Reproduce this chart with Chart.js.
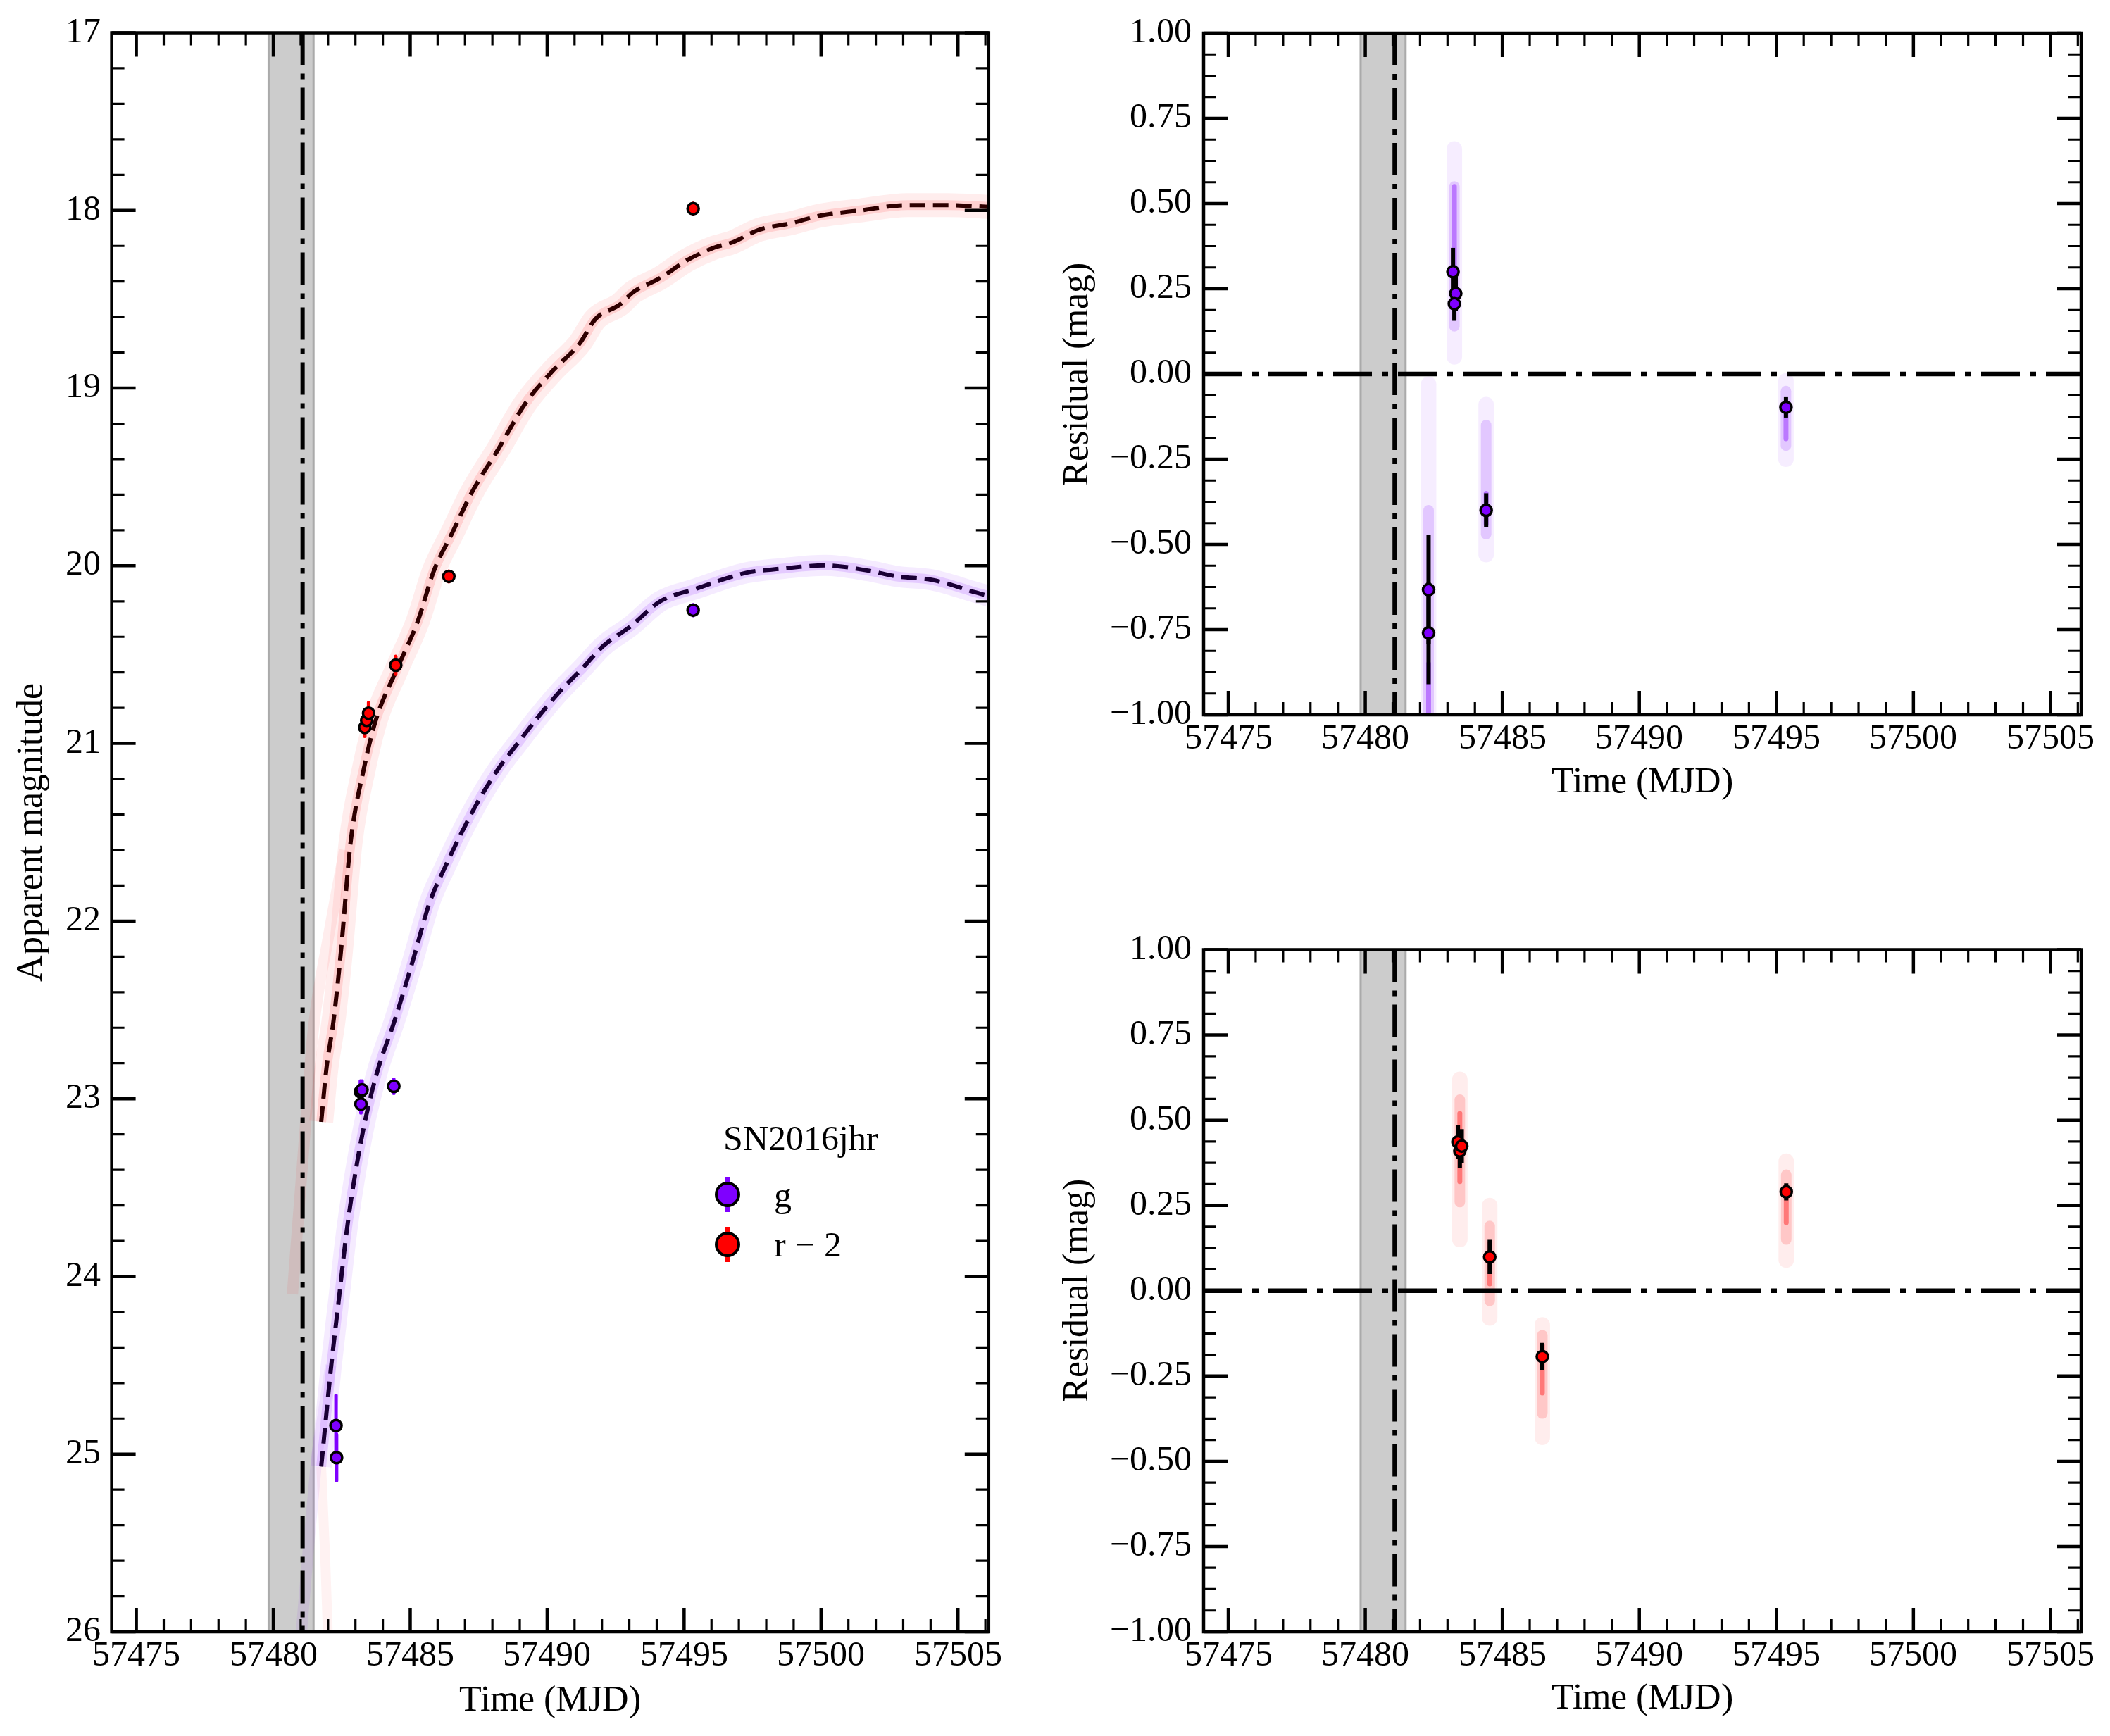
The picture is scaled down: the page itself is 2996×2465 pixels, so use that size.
<!DOCTYPE html>
<html><head><meta charset="utf-8">
<script src="https://cdn.jsdelivr.net/npm/chart.js@4.4.1/dist/chart.umd.min.js"></script>
<style>
@font-face { font-family: 'SerifX'; src: local('Liberation Serif'), local('LiberationSerif'), local('LiberationSerif-Regular'), local('Liberation Serif Regular'), local('Times New Roman'), local('DejaVu Serif'), local('DejaVuSerif'); }
html,body{margin:0;padding:0;background:#fff;}
#wrap{position:relative;width:2996px;height:2465px;overflow:hidden;background:#fff;}
canvas{position:absolute;}
#probe{position:absolute;left:-9999px;top:0;font-family:SerifX;font-size:50px;}
</style></head><body>
<div id="probe">SN2016jhr 0123456789</div>
<div id="wrap">
<canvas id="c1" width="1460" height="2465" style="left:0px;top:0px;width:1460px;height:2465px"></canvas>
<canvas id="c2" width="1516" height="1232" style="left:1480px;top:0px;width:1516px;height:1232px"></canvas>
<canvas id="c3" width="1516" height="1233" style="left:1480px;top:1232px;width:1516px;height:1233px"></canvas>
</div>
<script>
// ---------------- data ----------------
const xTicks = [57475, 57480, 57485, 57490, 57495, 57500, 57505];
const magTicks = [17, 18, 19, 20, 21, 22, 23, 24, 25, 26];
const resTicks = [-1, -0.75, -0.5, -0.25, 0, 0.25, 0.5, 0.75, 1];
const xLimits = [57474.1, 57506.12];
const magLimits = [17, 26];
const resLimits = [-1, 1];

const explosionTime = 57481.07;
const explosionWindow = [57479.83, 57481.47];

const legendTitle = 'SN2016jhr';
const legendLabels = ['g', 'r \u2212 2'];

// g band photometry
const gTime = [57482.29, 57482.31, 57483.18, 57483.24, 57483.20, 57484.40, 57495.33];
const gMag  = [24.84, 25.02, 22.96, 22.95, 23.03, 22.93, 20.25];
const gErr  = [0.17, 0.13, 0.06, 0.05, 0.05, 0.04, 0.03];

// r band photometry (r - 2)
const rTime = [57483.34, 57483.41, 57483.48, 57484.47, 57486.41, 57495.33];
const rMag  = [20.91, 20.87, 20.83, 20.56, 20.06, 17.99];
const rErr  = [0.05, 0.05, 0.06, 0.05, 0.03, 0.03];

// best-fit model curves
const rModelTime = [57481.75, 57481.94, 57482.20, 57482.47, 57482.82, 57483.31, 57483.75, 57484.49, 57485.28, 57485.86, 57486.55, 57487.24, 57488.23, 57489.21, 57490.19, 57491.18, 57491.77, 57492.65, 57493.14, 57494.13, 57495.11, 57496.09, 57496.76, 57497.72, 57498.96, 57499.94, 57501.43, 57503.16, 57504.64, 57506.12];
const rModelMag  = [23.13, 22.83, 22.56, 22.17, 21.56, 21.14, 20.865, 20.59, 20.31, 20.03, 19.81, 19.59, 19.34, 19.085, 18.905, 18.75, 18.61, 18.53, 18.46, 18.38, 18.28, 18.21, 18.18, 18.11, 18.07, 18.03, 18.00, 17.97, 17.97, 17.98];
const gModelTime = [57481.75, 57482.11, 57482.37, 57482.71, 57483.06, 57483.40, 57483.83, 57484.43, 57485.10, 57485.72, 57486.26, 57486.85, 57487.54, 57488.23, 57488.92, 57489.60, 57490.39, 57491.27, 57492.06, 57493.05, 57494.13, 57495.42, 57497.26, 57498.57, 57500.14, 57501.71, 57502.76, 57504.07, 57505.65, 57506.12];
const gModelMag  = [25.07, 24.51, 24.16, 23.71, 23.36, 23.09, 22.83, 22.56, 22.22, 21.89, 21.70, 21.51, 21.31, 21.14, 21.00, 20.865, 20.72, 20.58, 20.45, 20.34, 20.20, 20.13, 20.04, 20.016, 19.998, 20.027, 20.06, 20.08, 20.15, 20.17];

// faint early-time model samples
const rSampleTime = [57482.6, 57482.0, 57481.47, 57481.1, 57480.7];
const rSampleMag  = [21.6, 22.1, 22.6, 23.3, 24.1];
const gSampleTimeA = [57482.1, 57481.6, 57481.3, 57481.0];
const gSampleMagA  = [24.5, 25.0, 25.5, 26.05];
const gSampleTimeB = [57481.75, 57481.9, 57482.0];
const gSampleMagB  = [25.07, 25.6, 26.05];

// residuals g
const gResTime = [57482.31, 57482.31, 57483.20, 57483.30, 57483.25, 57484.41, 57495.35];
const gRes     = [-0.633, -0.76, 0.30, 0.236, 0.206, -0.40, -0.098];
const gResErr  = [0.16, 0.15, 0.07, 0.05, 0.05, 0.05, 0.03];
// residual sample clouds g (faint halo, denser part, core)
const gCloudTime    = [57482.31, 57483.25, 57484.41, 57495.35];
const gCloudOuterLo = [-1.05, 0.05, -0.53, -0.25];
const gCloudOuterHi = [-0.03, 0.66, -0.09, -0.02];
const gCloudInnerLo = [-1.05, 0.14, -0.47, -0.21];
const gCloudInnerHi = [-0.40, 0.55, -0.15, -0.05];
const gCloudCoreLo  = [-1.05, 0.22, -0.44, -0.19];
const gCloudCoreHi  = [-0.85, 0.55, -0.35, -0.12];

// residuals r
const rResTime = [57483.38, 57483.45, 57483.52, 57484.54, 57486.46, 57495.36];
const rRes     = [0.436, 0.41, 0.424, 0.099, -0.193, 0.29];
const rResErr  = [0.05, 0.05, 0.05, 0.05, 0.04, 0.025];
const rCloudTime    = [57483.45, 57484.54, 57486.46, 57495.36];
const rCloudOuterLo = [0.15, -0.08, -0.43, 0.09];
const rCloudOuterHi = [0.62, 0.25, -0.10, 0.38];
const rCloudInnerLo = [0.26, -0.03, -0.36, 0.15];
const rCloudInnerHi = [0.56, 0.19, -0.13, 0.34];
const rCloudCoreLo  = [0.32, 0.02, -0.30, 0.20];
const rCloudCoreHi  = [0.52, 0.14, -0.16, 0.30];

// ---------------- style ----------------
const FONT = "SerifX, 'Liberation Serif', 'DejaVu Serif', serif";
const PURPLE = '#7f00ff';
const RED = '#ff0000';

function xy(xs, ys) { return xs.map((x, i) => ({x: x, y: ys[i]})); }
function lineDS(data, style) {
  return Object.assign({data: data, showLine: true, pointRadius: 0, pointHoverRadius: 0,
    fill: false, clip: 0, tension: 0, borderJoinStyle: 'round'}, style);
}
function pointsDS(xs, ys, color) {
  return {data: xy(xs, ys), showLine: false, pointRadius: 8, pointHoverRadius: 8,
    pointBorderWidth: 3.5, pointBackgroundColor: color, pointBorderColor: '#000', order: 0};
}
function errDS(xs, ys, es, color, width) {
  return xs.map((x, i) => lineDS([{x: x, y: ys[i] - es[i]}, {x: x, y: ys[i] + es[i]}],
    {borderColor: color, borderWidth: width, order: 1}));
}
function cloudDS(xs, lo, hi, color, width, order) {
  return xs.map((x, i) => lineDS([{x: x, y: lo[i]}, {x: x, y: hi[i]}],
    {borderColor: color, borderWidth: width, borderCapStyle: 'round', order: order}));
}

const spanPlugin = {
  id: 'expSpan',
  beforeDatasetsDraw(chart) {
    const {ctx, chartArea: a, scales: {x}} = chart;
    const x0 = x.getPixelForValue(explosionWindow[0]);
    const x1 = x.getPixelForValue(explosionWindow[1]);
    ctx.save();
    ctx.fillStyle = '#cccccc';
    ctx.fillRect(x0, a.top, x1 - x0, a.bottom - a.top);
    ctx.strokeStyle = '#aaaaaa';
    ctx.lineWidth = 3;
    ctx.beginPath();
    ctx.moveTo(x0, a.top); ctx.lineTo(x0, a.bottom);
    ctx.moveTo(x1, a.top); ctx.lineTo(x1, a.bottom);
    ctx.stroke();
    ctx.restore();
  }
};

const frameTicksPlugin = {
  id: 'frameTicks',
  afterDraw(chart, args, opts) {
    const {ctx, chartArea: a, scales: {x, y}} = chart;
    ctx.save();
    ctx.strokeStyle = '#000';
    ctx.lineCap = 'butt';
    const MAJ = 34, MIN = 18;
    function vt(v, len, lw) {
      const p = x.getPixelForValue(v);
      if (p < a.left - 1 || p > a.right + 1) return;
      ctx.lineWidth = lw; ctx.beginPath();
      ctx.moveTo(p, a.bottom); ctx.lineTo(p, a.bottom - len);
      ctx.moveTo(p, a.top); ctx.lineTo(p, a.top + len);
      ctx.stroke();
    }
    function ht(v, len, lw) {
      const p = y.getPixelForValue(v);
      if (p < a.top - 1 || p > a.bottom + 1) return;
      ctx.lineWidth = lw; ctx.beginPath();
      ctx.moveTo(a.left, p); ctx.lineTo(a.left + len, p);
      ctx.moveTo(a.right, p); ctx.lineTo(a.right - len, p);
      ctx.stroke();
    }
    const xMaj = opts.xMajor, yMaj = opts.yMajor;
    for (let n = Math.ceil(x.min / opts.xMinor); n * opts.xMinor <= x.max; n++) {
      const v = n * opts.xMinor;
      if (!xMaj.some(m => Math.abs(m - v) < 1e-6)) vt(v, MIN, 3.2);
    }
    const ylo = Math.min(y.min, y.max), yhi = Math.max(y.min, y.max);
    for (let n = Math.ceil(ylo / opts.yMinor - 1e-9); n * opts.yMinor <= yhi + 1e-9; n++) {
      const v = Math.round(n * opts.yMinor * 1e6) / 1e6;
      if (!yMaj.some(m => Math.abs(m - v) < 1e-6)) ht(v, MIN, 3.2);
    }
    xMaj.forEach(v => vt(v, MAJ, 4.5));
    yMaj.forEach(v => ht(v, MAJ, 4.5));
    ctx.lineWidth = 4.5;
    ctx.strokeRect(a.left, a.top, a.right - a.left, a.bottom - a.top);
    ctx.restore();
  }
};

const legendPlugin = {
  id: 'lcLegend',
  afterDraw(chart) {
    const ctx = chart.ctx;
    ctx.save();
    ctx.font = '50px ' + FONT;
    ctx.fillStyle = '#000';
    ctx.textAlign = 'left';
    ctx.textBaseline = 'alphabetic';
    ctx.fillText(legendTitle, 1027, 1633);
    const colors = [PURPLE, RED];
    legendLabels.forEach((lab, i) => {
      const cx = 1033, cy = 1696 + i * 71;
      ctx.strokeStyle = colors[i]; ctx.lineWidth = 6;
      ctx.beginPath(); ctx.moveTo(cx, cy - 25); ctx.lineTo(cx, cy + 25); ctx.stroke();
      ctx.beginPath(); ctx.arc(cx, cy, 16, 0, 2 * Math.PI);
      ctx.fillStyle = colors[i]; ctx.fill();
      ctx.lineWidth = 4; ctx.strokeStyle = '#000'; ctx.stroke();
      ctx.fillStyle = '#000';
      ctx.fillText(lab, 1099, cy + 17);
    });
    ctx.restore();
  }
};

function xScale(height, titlePad) {
  return {
    type: 'linear', min: xLimits[0], max: xLimits[1],
    afterBuildTicks: s => { s.ticks = xTicks.map(v => ({value: v})); },
    afterFit: s => { s.height = height; },
    grid: {display: false, drawTicks: false},
    border: {display: false},
    ticks: {font: {family: FONT, size: 50}, color: '#000', padding: 5, autoSkip: false,
      maxRotation: 0, minRotation: 0, callback: v => String(v)},
    title: {display: true, text: 'Time (MJD)', color: '#000',
      font: {family: FONT, size: 52, lineHeight: 1.2}, padding: {top: 0, bottom: titlePad}}
  };
}
function yScale(opts) {
  return {
    type: 'linear', min: opts.min, max: opts.max, reverse: !!opts.reverse,
    afterBuildTicks: s => { s.ticks = opts.ticks.map(v => ({value: v})); },
    afterFit: s => { s.width = opts.width; },
    grid: {display: false, drawTicks: false},
    border: {display: false},
    ticks: {font: {family: FONT, size: 50}, color: '#000', padding: opts.pad, autoSkip: false,
      callback: opts.fmt},
    title: {display: true, text: opts.title, color: '#000',
      font: {family: FONT, size: 52, lineHeight: 1.2}, padding: {top: opts.titlePad, bottom: 0}}
  };
}
const resFmt = v => (v < -1e-9 ? '\u2212' : '') + Math.abs(v).toFixed(2);

const common = {
  responsive: false, animation: false, events: [],
  plugins: {legend: {display: false}, tooltip: {enabled: false}}
};

const charts = [];

// ---------------- left: light curves ----------------
const leftDatasets = [].concat(
  [pointsDS(gTime, gMag, PURPLE), pointsDS(rTime, rMag, RED)],
  errDS(gTime, gMag, gErr, PURPLE, 5),
  errDS(rTime, rMag, rErr, RED, 5),
  [
    lineDS(xy([explosionTime, explosionTime], magLimits), {borderColor: '#000', borderWidth: 6, borderDash: [46, 12, 8, 12], order: 1.5}),
    lineDS(xy(rModelTime, rModelMag), {borderColor: 'rgba(255,0,0,0.12)', borderWidth: 14, cubicInterpolationMode: 'monotone', order: 2}),
    lineDS(xy(rModelTime, rModelMag), {borderColor: 'rgba(255,0,0,0.07)', borderWidth: 34, cubicInterpolationMode: 'monotone', order: 2.1}),
    lineDS(xy(gModelTime, gModelMag), {borderColor: 'rgba(127,0,255,0.14)', borderWidth: 14, cubicInterpolationMode: 'monotone', order: 2}),
    lineDS(xy(gModelTime, gModelMag), {borderColor: 'rgba(127,0,255,0.08)', borderWidth: 30, cubicInterpolationMode: 'monotone', order: 2.1}),
    lineDS(xy(rModelTime, rModelMag), {borderColor: '#000', borderWidth: 6, borderDash: [22, 11], cubicInterpolationMode: 'monotone', order: 3}),
    lineDS(xy(gModelTime, gModelMag), {borderColor: '#000', borderWidth: 6, borderDash: [22, 11], cubicInterpolationMode: 'monotone', order: 3}),
    lineDS(xy(rSampleTime, rSampleMag), {borderColor: 'rgba(255,0,0,0.07)', borderWidth: 16, cubicInterpolationMode: 'monotone', order: 4}),
    lineDS(xy(gSampleTimeA, gSampleMagA), {borderColor: 'rgba(127,0,255,0.07)', borderWidth: 16, order: 4}),
    lineDS(xy(gSampleTimeB, gSampleMagB), {borderColor: 'rgba(255,0,0,0.05)', borderWidth: 14, order: 4})
  ]
);

charts.push(new Chart(document.getElementById('c1'), {
  type: 'scatter',
  data: {datasets: leftDatasets},
  options: Object.assign({}, common, {
    layout: {padding: {top: 46.5, right: 56.2, bottom: 0, left: 0}},
    scales: {
      x: xScale(148, 18),
      y: yScale({min: magLimits[0], max: magLimits[1], reverse: true, ticks: magTicks, width: 158.6,
        pad: 16, title: 'Apparent magnitude', titlePad: 14, fmt: v => String(v)})
    },
    plugins: Object.assign({}, common.plugins, {
      frameTicks: {xMajor: xTicks, xMinor: 1, yMajor: magTicks, yMinor: 0.2}
    })
  }),
  plugins: [spanPlugin, frameTicksPlugin, legendPlugin]
}));

// ---------------- right: residuals ----------------
function residualChart(id, times, res, errs, cT, oLo, oHi, iLo, iHi, cLo, cHi, color, rgb, padTop, xHeight, titlePad) {
  const ds = [].concat(
    [pointsDS(times, res, color)],
    errDS(times, res, errs, '#000', 6),
    [lineDS(xy(xLimits, [0, 0]), {borderColor: '#000', borderWidth: 6.5, borderDash: [55, 14, 9, 14], order: 1.5}),
     lineDS(xy([explosionTime, explosionTime], [resLimits[1], resLimits[0]]), {borderColor: '#000', borderWidth: 6, borderDash: [46, 12, 8, 12], order: 1.6})],
    cloudDS(cT, cLo, cHi, 'rgba(' + rgb + ',0.40)', 7, 2),
    cloudDS(cT, iLo, iHi, 'rgba(' + rgb + ',0.16)', 15, 2.5),
    cloudDS(cT, oLo, oHi, 'rgba(' + rgb + ',0.07)', 22, 3)
  );
  return new Chart(document.getElementById(id), {
    type: 'scatter',
    data: {datasets: ds},
    options: Object.assign({}, common, {
      layout: {padding: {top: padTop, right: 41, bottom: 0, left: 0}},
      scales: {
        x: xScale(xHeight, titlePad),
        y: yScale({min: resLimits[0], max: resLimits[1], ticks: resTicks, width: 229,
          pad: 17, title: 'Residual (mag)', titlePad: 19, fmt: resFmt})
      },
      plugins: Object.assign({}, common.plugins, {
        frameTicks: {xMajor: xTicks, xMinor: 1, yMajor: resTicks, yMinor: 0.0625}
      })
    }),
    plugins: [spanPlugin, frameTicksPlugin]
  });
}

charts.push(residualChart('c2', gResTime, gRes, gResErr, gCloudTime, gCloudOuterLo, gCloudOuterHi,
  gCloudInnerLo, gCloudInnerHi, gCloudCoreLo, gCloudCoreHi, PURPLE, '127,0,255', 46, 217, 89));
charts.push(residualChart('c3', rResTime, rRes, rResErr, rCloudTime, rCloudOuterLo, rCloudOuterHi,
  rCloudInnerLo, rCloudInnerHi, rCloudCoreLo, rCloudCoreHi, RED, '255,0,0', 116.5, 148, 21));

if (document.fonts && document.fonts.load) {
  document.fonts.load('50px SerifX').then(() => charts.forEach(c => c.update('none')), () => {});
}
</script>
</body></html>
